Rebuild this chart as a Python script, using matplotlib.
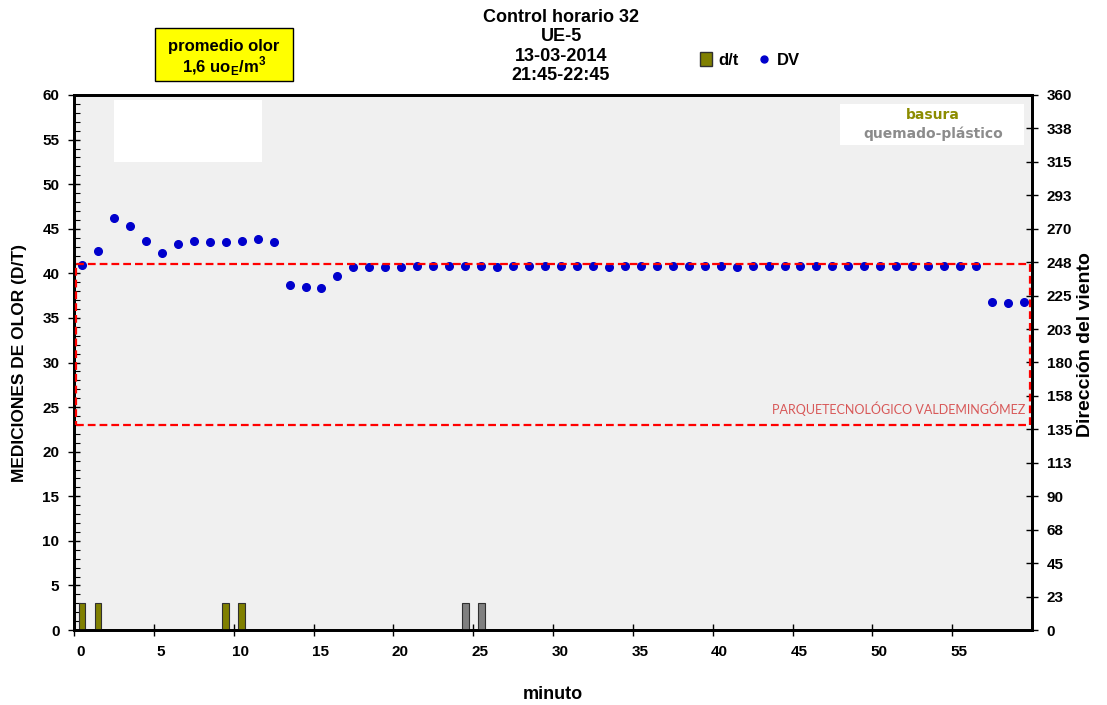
import matplotlib
matplotlib.use("Agg")
import matplotlib.pyplot as plt
import matplotlib.patches as mpatches
from matplotlib.transforms import ScaledTranslation
from matplotlib.lines import Line2D
import numpy as np

# Data
minutes = np.arange(60)
dv = [245.5, 255, 277, 272, 262, 254, 260, 262, 261, 261,
      262, 263, 261, 232, 231, 230, 238, 244, 244, 244,
      244, 245, 245, 245, 245, 245, 244, 245, 245, 245,
      245, 245, 245, 244, 245, 245, 245, 245, 245, 245,
      245, 244, 245, 245, 245, 245, 245, 245, 245, 245,
      245, 245, 245, 245, 245, 245, 245, 221, 220, 221]
dt_minutes = [0, 1, 9, 10, 24, 25]
dt_values = [3, 3, 3, 3, 3, 3]
dt_colors = ["#808000", "#808000", "#808000", "#808000", "#808080", "#808080"]

title_lines = ["Control horario 32", "UE-5", "13-03-2014", "21:45-22:45"]
right_ticks = [0, 22.5, 45, 67.5, 90, 112.5, 135, 157.5, 180, 202.5, 225,
               247.5, 270, 292.5, 315, 337.5, 360]
right_labels = ["0", "23", "45", "68", "90", "113", "135", "158", "180", "203",
                "225", "248", "270", "293", "315", "338", "360"]
zone_low, zone_high = 23, 41   # dashed box on left axis scale

plt.rcParams['font.family'] = ['Liberation Sans', 'DejaVu Sans']
narrow = ['Liberation Sans Narrow', 'Liberation Sans', 'DejaVu Sans']

fig = plt.figure(figsize=(11.07, 7.05), dpi=100)
ax = fig.add_axes([74 / 1107, 1 - 630 / 705, (1032 - 74) / 1107, (630 - 95) / 705])
ax.set_facecolor("#F0F0F0")

centers = minutes + 0.5
bar_x = np.array(dt_minutes) + 0.5
bars = ax.bar(bar_x, dt_values, width=0.42, color=dt_colors, edgecolor="#303030",
              linewidth=0.8, zorder=3)

ax.set_xlim(0, 60)
ax.set_ylim(0, 60)
ax.set_xticks(np.arange(0, 60, 5))
ax.set_yticks(np.arange(0, 61, 5))
ax.set_yticks(np.arange(0, 61, 1), minor=True)
ax.tick_params(axis='x', direction='inout', length=9, width=1, labelsize=11, pad=6)
ax.tick_params(axis='y', which='major', direction='inout', length=9, width=1,
               labelsize=11, pad=6)
ax.tick_params(axis='y', which='minor', direction='in', length=4, width=0.8)
for lbl in ax.get_xticklabels() + ax.get_yticklabels():
    lbl.set_fontweight('bold')
for lbl in ax.get_xticklabels():
    lbl.set_transform(lbl.get_transform() + ScaledTranslation(7 / 100, 0, fig.dpi_scale_trans))
for sp in ax.spines.values():
    sp.set_linewidth(2)

ax.set_xlabel("minuto", fontsize=13, fontweight='bold', labelpad=20)
ax.set_ylabel("MEDICIONES DE OLOR (D/T)", fontsize=12.5, fontweight='bold', labelpad=11)

# white boxes
ax.add_patch(mpatches.Rectangle((2.5, 52.5), 9.3, 6.9, facecolor='white',
                                edgecolor='none', zorder=1))
ax.add_patch(mpatches.Rectangle((48.0, 54.4), 11.5, 4.6, facecolor='white',
                                edgecolor='none', zorder=1))
ax.text(53.8, 57.8, "basura", color="#8C8C00", fontsize=10, fontweight='bold',
        family=['DejaVu Sans'], ha='center', va='center', zorder=4)
ax.text(53.8, 55.7, "quemado-plástico", color="#8C8C8C", fontsize=10,
        fontweight='bold', family=['DejaVu Sans'], ha='center', va='center', zorder=4)
ax.text(59.6, 24.8, "PARQUETECNOLÓGICO VALDEMINGÓMEZ", color="#D85858",
        fontsize=9, family=['Lato', 'DejaVu Sans'], ha='right', va='center', zorder=4)

# wind direction on right axis
ax2 = ax.twinx()
ax2.set_ylim(0, 360)
pts = ax2.plot(centers, dv, 'o', color="#0000CC", markersize=5.5, zorder=5)
ax2.set_yticks(right_ticks)
ax2.set_yticklabels(right_labels)
ax2.tick_params(axis='y', direction='inout', length=9, width=1, labelsize=11, pad=6)
for lbl in ax2.get_yticklabels():
    lbl.set_fontweight('bold')
for sp in ax2.spines.values():
    sp.set_linewidth(2)
ax2.set_ylabel("Dirección del viento", fontsize=14, fontweight='bold')
ax2.yaxis.set_label_coords(1.047, 0.533)

# dashed zone rectangle, drawn above the spines
ax2.add_patch(mpatches.Rectangle((0.15, zone_low), 59.75, zone_high - zone_low, fill=False,
                                 edgecolor="#FF0000", linestyle=(0, (3.5, 1.8)),
                                 linewidth=1.6, zorder=6, clip_on=False,
                                 transform=ax.transData))

# title
for i, line in enumerate(title_lines):
    fig.text(561 / 1107, 1 - (17 + 19.6 * i) / 705, line, ha='center', va='center',
             fontsize=13, fontweight='bold', family=narrow)

# yellow info box
fig.add_artist(mpatches.Rectangle((155 / 1107, 1 - 81 / 705), 138 / 1107, 53 / 705,
                                  transform=fig.transFigure, facecolor="#FFFF00",
                                  edgecolor='black', linewidth=1))
fig.text(224 / 1107, 1 - 46 / 705, "promedio olor", ha='center', va='center',
         fontsize=12, fontweight='bold', family=narrow)
fig.text(224 / 1107, 1 - 66 / 705, r"1,6 uo$_\mathregular{E}$/m$^\mathregular{3}$",
         ha='center', va='center', fontsize=12, fontweight='bold', family=narrow)

# legend
handles = [mpatches.Patch(facecolor="#808000", edgecolor="#303030"),
           Line2D([], [], marker='o', linestyle='none', color="#0000CC", markersize=5)]
fig.legend(handles, ["d/t", "DV"], loc='center', bbox_to_anchor=(750 / 1107, 1 - 60 / 705),
           ncol=2, frameon=False, handlelength=0.7, handleheight=0.9, columnspacing=1.2,
           handletextpad=0.4, prop={'family': narrow, 'weight': 'bold', 'size': 12})

fig.savefig("out.png", dpi=100)
